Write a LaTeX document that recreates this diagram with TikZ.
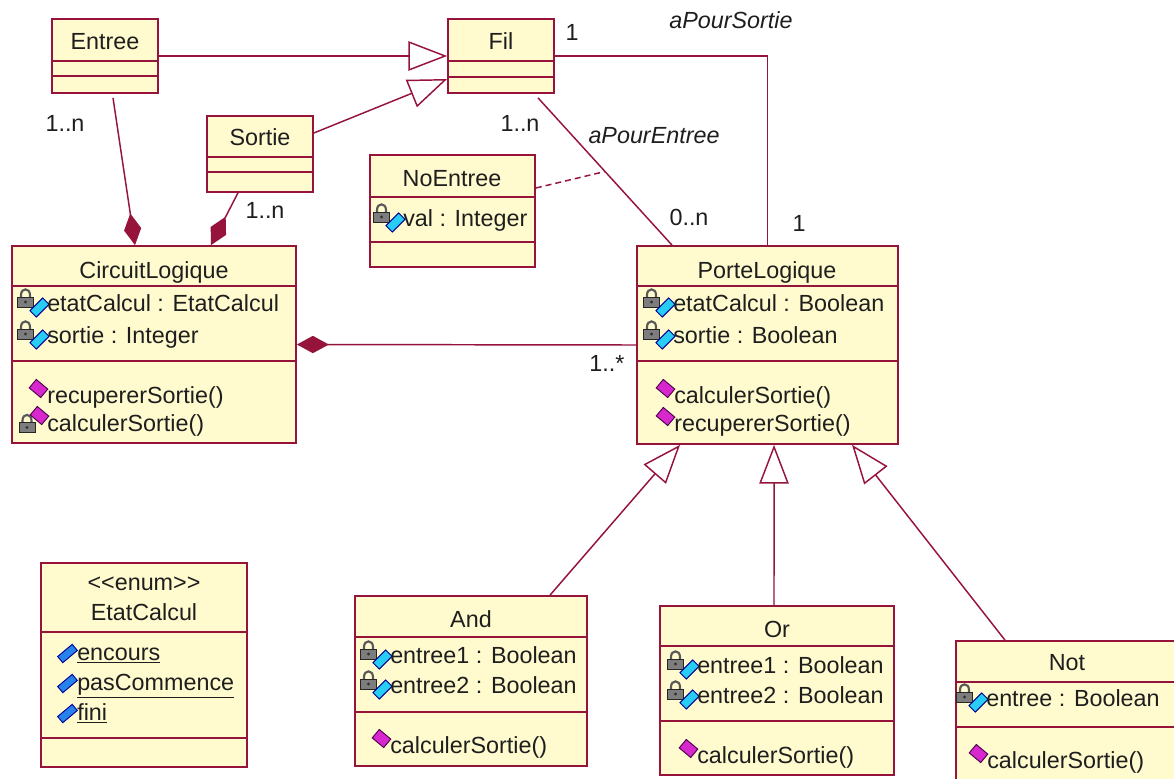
\documentclass[tikz,border=0pt]{standalone}
\usepackage{fontspec}
\setmainfont{Liberation Sans}
\usetikzlibrary{arrows.meta,fit,calc}

\definecolor{umlfill}{RGB}{255,251,206}
\definecolor{umlline}{RGB}{150,20,60}
\definecolor{umltext}{RGB}{30,30,30}
\definecolor{attrcyan}{RGB}{40,205,245}
\definecolor{opmagenta}{RGB}{215,40,205}
\definecolor{litblue}{RGB}{40,130,235}
\definecolor{lockgray}{RGB}{125,125,125}

% class box: name, x1, y1, x2, y2, first separator y, second separator y
\newcommand\umlclass[7]{%
  \node[cls, fit={(#2,#3) (#4,#5)}] (#1) {};
  \draw[sep] (#2,#6) -- (#4,#6) (#2,#7) -- (#4,#7);
}
% compartment rows: node name, text start x, row centre y, text
\newcommand\attrrow[4]{%
  \pic at ({#2-21.5},{#3-5}) {padlock};
  \pic at ({#2-7.5},{#3+4.5}) {attrdia};
  \node[row] (#1) at (#2,#3) {#4};
}
\newcommand\oprow[4]{%
  \pic at ({#2-8.5},{#3-6.5}) {opdia};
  \node[row] (#1) at (#2,#3) {#4};
}
\newcommand\privoprow[4]{%
  \pic at ({#2-20},{#3+0.5}) {padlock};
  \pic at ({#2-7.5},{#3-7.5}) {opdia};
  \node[row] (#1) at (#2,#3) {#4};
}
\newcommand\litrow[4]{%
  \pic at ({#2-9.5},{#3+1.5}) {litdia};
  \node[row] (#1) at (#2,#3) {\underline{#4}};
}

\begin{document}
\begin{tikzpicture}[x=0.75pt,y=-0.75pt,
  font=\fontsize{17.5}{20}\selectfont,
  every node/.style={text=umltext},
  cls/.style={draw=umlline, line width=1.3pt, fill=umlfill, inner sep=0pt},
  sep/.style={draw=umlline, line width=1.3pt},
  lbl/.style={inner sep=0pt, text height=12.5pt, text depth=0pt},
  row/.style={lbl, anchor=west},
  role/.style={lbl, font=\fontsize{17.5}{20}\selectfont\itshape},
  link/.style={draw=umlline, line width=1.1pt},
  gen/.style={link, -{Triangle[open, length=29pt, width=22pt, fill=white]}},
  comp/.style={link, -{Diamond[length=24pt, width=13pt]}},
  assoc/.style={link, dash pattern=on 4.5pt off 3pt},
  padlock/.pic={
    \draw[line width=1.6pt, draw=black!65] (-4.5,0) -- (-4.5,-3) .. controls (-4.5,-10.5) and (4.5,-10.5) .. (4.5,-3) -- (4.5,0);
    \filldraw[draw=black!85, fill=lockgray, line width=0.7pt] (-8,-1) rectangle (8,9);
    \fill[black!80] (0,4) circle[radius=1.6];
  },
  attrdia/.pic={
    \filldraw[draw=blue!55!black, fill=attrcyan, line width=0.7pt, rotate=45] (-9,-4.5) rectangle (9,4.5);
  },
  opdia/.pic={
    \filldraw[draw=violet!60!black, fill=opmagenta, line width=0.7pt, rotate=-40] (-7.5,-5.5) rectangle (7.5,5.5);
  },
  litdia/.pic={
    \filldraw[draw=blue!60!black, fill=litblue, line width=0.7pt, rotate=40] (-9.5,-4) rectangle (9.5,4);
  },
]
\useasboundingbox (0,0) rectangle (1174,778);
\fill[white] (0,0) rectangle (1174,778);
\clip (0,0) rectangle (1174,778);

% ---------- classes ----------
\umlclass{entree}{52}{19}{158}{93}{61}{76}
\node[lbl] (entreeT) at (105,41) {Entree};

\umlclass{fil}{448}{19}{554}{93}{61}{77}
\node[lbl] (filT) at (501,41) {Fil};

\umlclass{sortie}{207}{116}{313}{192}{157}{172}
\node[lbl] (sortieT) at (260,137) {Sortie};

\umlclass{noentree}{370}{155}{535}{267}{197}{242}
\node[lbl] (noentreeT) at (452,178) {NoEntree};
\attrrow{noentreeA}{403}{218}{val : Integer}

\umlclass{circuit}{12}{246}{296}{443}{286}{361}
\node[lbl] (circuitT) at (154,270) {CircuitLogique};
\attrrow{circuitA1}{47}{303}{etatCalcul : EtatCalcul}
\attrrow{circuitA2}{47}{335}{sortie : Integer}
\oprow{circuitO1}{47}{395}{recupererSortie()}
\privoprow{circuitO2}{47}{423}{calculerSortie()}

\umlclass{porte}{637}{246}{898}{444}{286}{361}
\node[lbl] (porteT) at (767,270) {PorteLogique};
\attrrow{porteA1}{673}{303}{etatCalcul : Boolean}
\attrrow{porteA2}{673}{335}{sortie : Boolean}
\oprow{porteO1}{674}{395}{calculerSortie()}
\oprow{porteO2}{674}{423}{recupererSortie()}

\umlclass{etat}{41}{563}{247}{767}{632}{738}
\node[lbl] (etatS) at (144,582) {<\kern0pt<enum>\kern0pt>};
\node[lbl] (etatT) at (144,612) {EtatCalcul};
\litrow{etatL1}{77}{652}{encours}
\litrow{etatL2}{77}{682}{pasCommence}
\litrow{etatL3}{77}{712}{fini}

\umlclass{and}{355}{596}{587}{766}{637}{712}
\node[lbl] (andT) at (471,619) {And};
\attrrow{andA1}{390}{655}{entree1 : Boolean}
\attrrow{andA2}{390}{685}{entree2 : Boolean}
\oprow{andO1}{390}{745}{calculerSortie()}

\umlclass{or}{660}{606}{894}{775}{646}{721}
\node[lbl] (orT) at (777,629) {Or};
\attrrow{orA1}{697}{665}{entree1 : Boolean}
\attrrow{orA2}{697}{695}{entree2 : Boolean}
\oprow{orO1}{697}{755}{calculerSortie()}

\umlclass{not}{956}{641}{1178}{800}{682}{727}
\node[lbl] (notT) at (1067,662) {Not};
\attrrow{notA1}{986}{698}{entree : Boolean}
\oprow{notO1}{987}{760}{calculerSortie()}

% ---------- connectors ----------
% generalisations towards Fil
\draw[gen] (entree.east) -- (fil.west);
\draw[gen] ([yshift=15.75pt]sortie.east) -- ([yshift=-17.25pt]fil.west);

% compositions into CircuitLogique
\draw[comp] ([xshift=6pt,yshift=-3pt]entree.south) -- ([xshift=-14.25pt]circuit.north);
\draw[comp] ([xshift=-16.5pt]sortie.south) -- ([xshift=42.75pt]circuit.north);
\draw[comp] (porte.west) -- (circuit.east);

% Fil / PorteLogique associations
\draw[link] ([xshift=27.75pt,yshift=-3pt]fil.south) -- coordinate[pos=0.5] (assocmid) ([xshift=-71.6pt]porte.north);
\draw[assoc] ([yshift=17.25pt]noentree.east) -- (assocmid);
\draw[link] (fil.east) -| (porte.north);

% generalisations towards PorteLogique
\draw[gen] ([xshift=59.25pt]and.north) -- ([xshift=-65.6pt]porte.south);
\draw[gen] ([xshift=-2.25pt]or.north) -- ([xshift=4.9pt]porte.south);
\draw[gen] ([xshift=-46.5pt]not.north) -- ([xshift=63.4pt]porte.south);

% ---------- multiplicities and roles ----------
\node[lbl] (mEntree) at (65,123) {1..n};
\node[lbl] (mSortie) at (265,210) {1..n};
\node[lbl] (mFilOut) at (572,32) {1};
\node[role] (rOut) at (731,20) {aPourSortie};
\node[lbl] (mFilIn) at (520,123) {1..n};
\node[role] (rIn) at (654,135) {aPourEntree};
\node[lbl] (mPorteIn) at (689,217) {0..n};
\node[lbl] (mPorteOut) at (799,223) {1};
\node[lbl] (mPortes) at (607,363) {1..*};
\end{tikzpicture}
\end{document}
